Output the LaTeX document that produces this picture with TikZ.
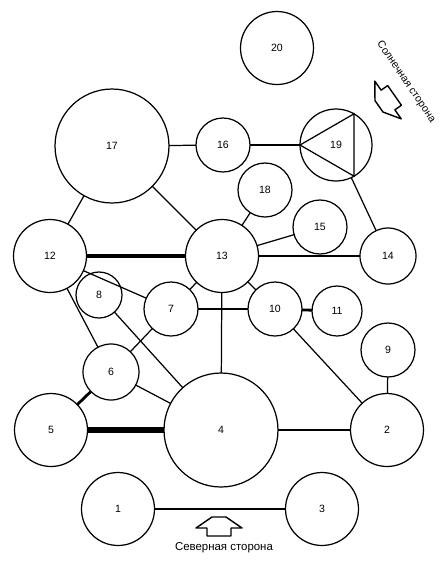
\documentclass[tikz,border=0pt]{standalone}
\usepackage{fontspec}
\setmainfont{Liberation Sans}

\begin{document}
\begin{tikzpicture}[
    x=0.02cm, y=-0.02cm,
    font=\fontsize{6}{7}\selectfont,
    room/.style={draw, circle, line width=0.7pt, inner sep=0pt, outer sep=0pt},
    hall/.style={room, minimum size=2.28cm},
    ward/.style={room, minimum size=1.46cm},
    cell/.style={room, minimum size=1.08cm},
    link/.style={line width=0.7pt},
    wide/.style={line width=2.8pt},
    side/.style={font=\fontsize{6.5}{7}\selectfont},
    marker/.style={line width=0.8pt, line join=round}
]
\useasboundingbox (0,0) rectangle (442,562);

% 1. Top row
\node[ward] (r20) at (277,48) {20};
\node[hall] (r17) at (112,146) {17};
\node[cell] (r16) at (223,145) {16};
\node[ward, minimum size=1.44cm] (r19) at (336,145) {19};

% 2. Middle band
\node[cell] (r18) at (265,190) {18};
\node[cell] (r15) at (320,227) {15};
\node[ward] (r12) at (50,256) {12};
\node[ward] (r13) at (222,256) {13};
\node[cell, minimum size=1.12cm] (r14) at (388,256) {14};
\node[cell, minimum size=0.92cm] (r8) at (99,295) {8};
\node[cell] (r7) at (171,309) {7};
\node[cell] (r10) at (275,309) {10};
\node[cell, minimum size=1cm] (r11) at (337,311) {11};
\node[cell] (r9) at (388,350) {9};

% 3. Lower band
\node[cell, minimum size=1.12cm] (r6) at (111,372) {6};
\node[ward] (r5) at (51,430) {5};
\node[hall] (r4) at (221,430) {4};
\node[ward] (r2) at (387,430) {2};
\node[ward] (r1) at (118,509) {1};
\node[ward] (r3) at (322,509) {3};

% Side marks
\draw[marker, shift={(219,528)}] (-23,0) -- (-7,-11) -- (7,-11) -- (23,0) -- (12,0) -- (12,8) -- (-12,8) -- (-12,0) -- cycle;
\node[side] (southnote) at (224,548) {Северная сторона};
\draw[marker, shift={(388,100)}, rotate=125] (-23,0) -- (-7,-11) -- (7,-11) -- (23,0) -- (12,0) -- (12,8) -- (-12,8) -- (-12,0) -- cycle;
\node[font=\fontsize{6}{7}\selectfont, rotate=-55.6] (eastnote) at (406,82) {Солнечная сторона};

% Connections
\draw[link] (r19.180) -- (r19.60) -- (r19.-60) -- cycle;
\draw[link] (r17) -- (r16);
\draw[link] (r16) -- (r19);
\draw[link] (r17) -- (r12);
\draw[link] (r17) -- (r13);
\draw[link] (r19) -- (r14);
\draw[wide] (r12) -- (r13);
\draw[link] (r13) -- (r14);
\draw[link] (r13) -- (r18);
\draw[link] (r13) -- (r15);
\draw[link] (r13) -- (r7);
\draw[link] (r13) -- (r10);
\draw[link] (r13) -- (r4);
\draw[line width=1.1pt] (r7) -- (r10);
\draw[line width=1.6pt] (r10) -- (r11);
\draw[link] (r10) -- (r2);
\draw[link] (r9) -- (r2);
\draw[link] (r12) -- (r7);
\draw[link] (r12) -- (r6);
\draw[link] (r8) -- (r4);
\draw[link] (r7) -- (r6);
\draw[link] (r6) -- (r4);
\draw[line width=1.6pt] (r5) -- (r6);
\draw[line width=3pt] (r5) -- (r4);
\draw[link] (r4) -- (r2);
\draw[link] (r1) -- (r3);

\end{tikzpicture}
\end{document}
